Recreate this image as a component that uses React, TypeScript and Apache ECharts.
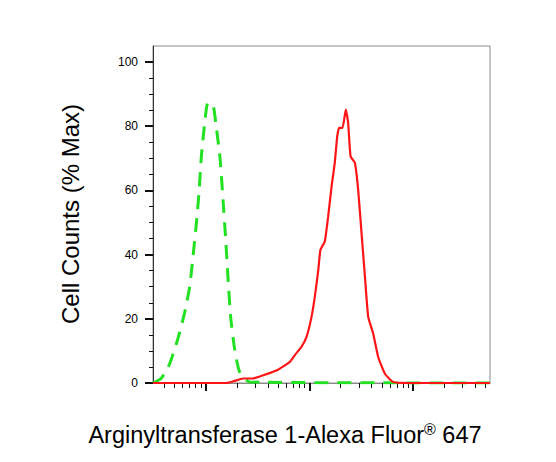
import React, { useEffect, useRef } from "react";
import * as echarts from "echarts";

const greenX = [3.1, 3.73, 4.49, 5.4, 6.27, 7.0, 7.54, 8.13, 8.61, 9.08, 9.78, 10.5, 11.8, 12.5, 13.7, 14.7, 15.6, 16.4, 17.4, 19.1, 21.3, 26.6, 5540];
const greenY = [0, 1.5, 6, 13.9, 22, 30, 39.4, 49.8, 59.2, 70.6, 81, 87.3, 86.3, 81, 70.6, 57, 44.6, 33, 20.6, 10.2, 3.4, 0.3, 0];

const redX = [3.1, 15.8, 18.4, 22.9, 28.6, 35.8, 48.2, 64.9, 72.5, 84.1, 94.0, 105, 113, 122, 128, 141, 152, 164, 176, 186, 194, 209, 225, 237, 250, 275, 296, 319, 344, 370, 413, 462, 536, 645, 935, 5540];
const redY = [0, 0, 0.5, 1.4, 1.4, 2.4, 3.9, 6.6, 8.7, 11.3, 14.4, 20.6, 26.9, 35.2, 41.5, 44.1, 51.9, 61.3, 68.6, 76.9, 79.5, 79.5, 85.2, 81, 70.6, 68.6, 60.2, 46.7, 33.1, 20.6, 15.4, 8.1, 2.9, 0.3, 0, 0];

const yMajorTicks = [0, 20, 40, 60, 80, 100];
const yMinorTicks = [5, 10, 15, 25, 30, 35, 45, 50, 55, 65, 70, 75, 85, 90, 95];
const xMajorTicks = [10, 100, 1000];
const xMinorTicks = [4, 5, 6, 7, 8, 9, 20, 30, 40, 50, 60, 70, 80, 90, 200, 300, 400, 500, 600, 700, 800, 900, 2000, 3000, 4000, 5000];

const xTitle = "Arginyltransferase 1-Alexa Fluor";
const xTitleSup = "®";
const xTitleEnd = " 647";
const yTitle = "Cell Counts (% Max)";

const FONT = 'Arial, "Liberation Sans", sans-serif';
const X_MIN = 3.1;
const X_MAX = 5540;
const Y_MAX = 105;

export default function App() {
  const ref = useRef<HTMLDivElement>(null);
  useEffect(() => {
    if (!ref.current) return;
    const chart = echarts.init(ref.current, null, { renderer: "svg" });
    const xBase = {
      type: "log" as const,
      logBase: 10,
      min: X_MIN,
      max: X_MAX,
      position: "bottom" as const,
      gridIndex: 0,
      axisLabel: { show: false },
      splitLine: { show: false },
    };
    const yBase = {
      type: "value" as const,
      min: 0,
      max: Y_MAX,
      position: "left" as const,
      gridIndex: 0,
      splitLine: { show: false },
    };
    chart.setOption({
      animation: false,
      backgroundColor: "#ffffff",
      grid: {
        left: 153,
        right: 66,
        top: 46,
        bottom: 79,
        show: true,
        borderColor: "#8a8a8a",
        borderWidth: 1,
        backgroundColor: "transparent",
      },
      xAxis: [
        {
          ...xBase,
          axisLine: { show: true, onZero: false, lineStyle: { color: "#8a8a8a", width: 1 } },
          axisTick: { show: true, inside: false, length: 8, customValues: xMajorTicks, lineStyle: { color: "#111", width: 2 } },
        },
        {
          ...xBase,
          axisLine: { show: false, onZero: false },
          axisTick: { show: true, inside: false, length: 5, customValues: xMinorTicks, lineStyle: { color: "#111", width: 1 } },
        },
      ],
      yAxis: [
        {
          ...yBase,
          axisLine: { show: true, onZero: false, lineStyle: { color: "#333", width: 1 } },
          axisTick: { show: true, inside: false, length: 8, customValues: yMajorTicks, lineStyle: { color: "#111", width: 2 } },
          axisLabel: { show: true, customValues: yMajorTicks, margin: 15, fontSize: 12, color: "#000", fontFamily: FONT },
        },
        {
          ...yBase,
          axisLine: { show: false, onZero: false },
          axisTick: { show: true, inside: false, length: 4, customValues: yMinorTicks, lineStyle: { color: "#111", width: 1 } },
          axisLabel: { show: false },
        },
      ],
      series: [
        {
          type: "line",
          name: "control",
          xAxisIndex: 0,
          yAxisIndex: 0,
          data: greenX.map((x, i) => [x, greenY[i]]),
          showSymbol: false,
          smooth: 0.2,
          lineStyle: { color: "#22e022", width: 3, type: [14, 9] },
          z: 2,
        },
        {
          type: "line",
          name: "sample",
          xAxisIndex: 0,
          yAxisIndex: 0,
          data: redX.map((x, i) => [x, redY[i]]),
          showSymbol: false,
          smooth: 0.15,
          lineStyle: { color: "#ff1515", width: 2.2 },
          z: 3,
        },
      ],
      graphic: [
        {
          type: "text",
          x: 70,
          y: 214,
          rotation: Math.PI / 2,
          style: {
            text: yTitle,
            fontSize: 24,
            fontFamily: FONT,
            fill: "#000",
            align: "center",
            verticalAlign: "middle",
          },
        },
        {
          type: "text",
          x: 285,
          y: 434,
          style: {
            text: `{a|${xTitle}}{s|${xTitleSup}}{a|${xTitleEnd}}`,
            fontFamily: FONT,
            fill: "#000",
            align: "center",
            verticalAlign: "middle",
            rich: {
              a: { fontSize: 23.5, fontFamily: FONT, fill: "#000", lineHeight: 26, verticalAlign: "bottom" },
              s: { fontSize: 16, fontFamily: FONT, fill: "#000", lineHeight: 26, verticalAlign: "top" },
            },
          },
        },
      ],
    });
    return () => chart.dispose();
  }, []);
  return <div ref={ref} style={{ position: "fixed", left: 0, top: 0, width: 556, height: 462 }} />;
}
